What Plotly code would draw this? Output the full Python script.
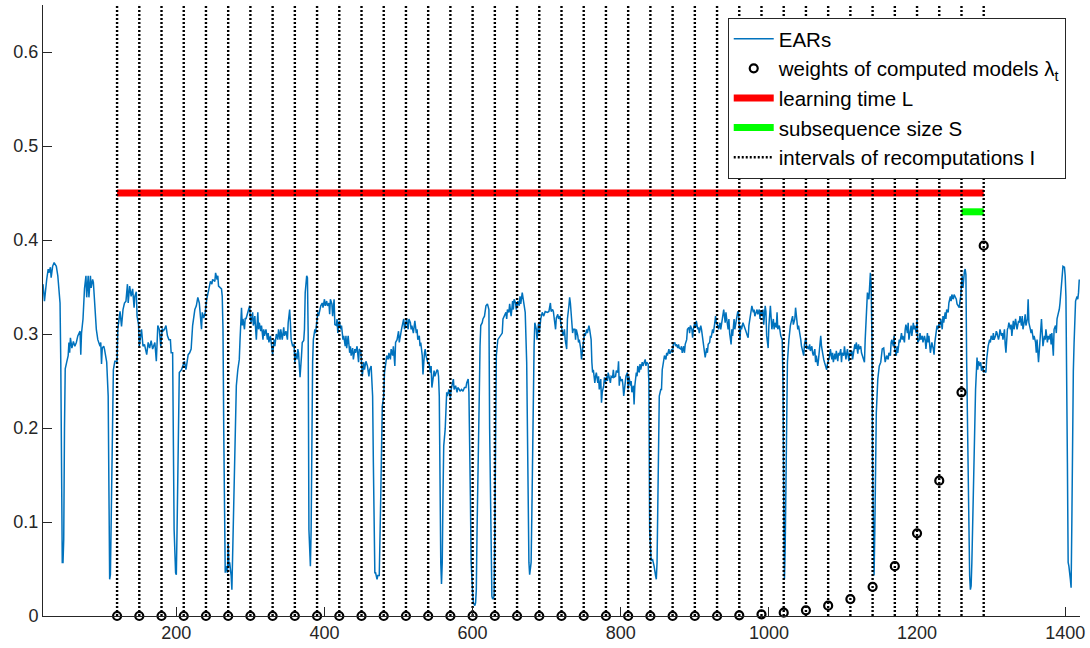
import plotly.graph_objects as go

# ---------------- data ----------------
ear_x = [
    20, 22, 25, 27, 28, 30, 31, 33, 35, 36, 38, 40, 42, 43, 44, 45, 46, 47, 48, 49,
    50, 52, 54, 55, 56, 57, 59, 61, 63, 65, 67, 70, 71, 72, 74, 76, 78, 79, 81, 82,
    84, 85, 87, 88, 90, 92, 94, 97, 98, 99, 100, 102, 103, 105, 106, 108, 109, 110, 111, 112,
    113, 114, 115, 117, 120, 121, 124, 126, 128, 130, 132, 134, 135, 137, 139, 141, 143, 144, 146, 147,
    149, 150, 153, 155, 157, 160, 162, 164, 166, 168, 171, 173, 175, 177, 179, 181, 182, 184, 186, 188,
    190, 192, 193, 195, 196, 197, 199, 200, 201, 202, 203, 204, 207, 209, 211, 213, 216, 218, 220, 222,
    225, 227, 229, 231, 234, 235, 237, 239, 241, 244, 245,
    246, 248, 249, 252, 253, 255, 256, 257, 259, 261, 262, 263, 264, 265, 266, 267, 269, 270, 271, 272,
    274, 275, 276, 277, 278, 279, 280, 281, 283, 284, 285, 286, 287, 288, 289, 290, 292, 293, 294, 296,
    297, 299, 300, 301, 303, 304, 306, 307, 308, 310, 311, 312, 314, 315, 317, 318, 319, 321, 323, 324,
    325, 327, 328, 329, 330, 332, 333, 335, 337, 338, 340, 341, 343, 345, 346, 348, 350, 351, 353, 354,
    355, 357, 359, 360, 361, 363, 364, 365, 366, 367, 369, 370, 372, 373, 374, 376, 377, 378, 379, 380,
    381, 382, 383, 384, 385, 387, 388, 389, 391, 392, 394, 395, 397, 398, 400, 401, 403, 404, 406, 407,
    408, 410, 411, 413, 414, 416, 417, 418, 420, 422, 423, 425, 426, 428, 429, 430, 432, 434, 435, 436,
    438, 439, 441, 442, 444, 446, 447, 449, 450, 451, 453, 454, 456, 458, 460, 461, 463, 464, 465, 466,
    467, 468, 469, 471, 472, 474,
    476, 477, 478, 480, 481, 483, 484, 486, 487, 489, 490, 492, 493, 495, 496, 498, 500, 501, 503, 504,
    505, 507, 508, 510, 511, 512, 513, 514, 516, 517, 518, 520, 521, 522, 524, 525, 526, 528, 529, 530,
    532, 533, 535, 536, 537, 539, 540, 541, 543, 544, 545, 547, 548, 549, 551, 552, 553, 554, 555, 556,
    557, 558, 559, 560, 561, 563, 564, 565, 566, 568, 570, 571, 573, 574, 575, 577, 579, 580, 582, 583,
    585, 587, 589, 591, 592, 594, 595, 596, 597, 598, 599, 600, 601, 603, 604, 605, 606, 607, 609, 610,
    611, 613, 614, 616, 617, 618, 620, 621, 622, 623, 625, 626, 627, 629, 630, 631, 632, 634, 636, 638,
    640, 641, 643, 645, 646, 647, 649, 650, 652, 654, 655, 656, 658, 659, 661, 663, 664, 665, 667, 668,
    670, 671, 673, 674, 675, 676, 677, 679, 680, 681, 682, 683, 684, 686, 687, 689, 690, 692, 694, 696,
    698, 701, 703,
    705, 706, 708, 709, 710, 712, 713, 715, 716, 718, 719, 721, 722, 724, 725, 727, 728, 730, 731, 732,
    734, 735, 736, 738, 739, 740, 742, 743, 744, 746, 747, 748, 750, 751, 752, 754, 755, 757, 758, 760,
    761, 762, 763, 765, 766, 767, 769, 770, 771, 773, 774, 775, 777, 778, 779, 781, 782, 783, 785, 786,
    787, 789, 790, 791, 793, 794, 796, 797, 798, 799, 800, 802, 803, 804, 806, 807, 809, 810, 811, 813,
    814, 815, 817, 818, 819, 821, 822, 823, 825, 826, 827, 829, 830, 831, 833, 834, 835, 837, 838, 839,
    840, 841, 843, 844, 845, 847, 848, 849, 850, 851, 852, 854, 855, 856, 858, 859, 861, 862, 863, 865,
    866, 867, 869, 870, 871, 873, 874, 875, 877, 878, 879, 881, 882, 883, 885, 886, 887, 889, 890, 892,
    893, 894, 896, 897, 898, 900, 901, 902, 904, 905, 906, 908, 909, 910, 912, 913, 914, 916, 917, 918,
    920, 921, 922, 924, 925, 927, 928, 929, 931, 932,
    934, 935, 937, 938, 939, 941, 942, 943, 945, 946, 947, 949, 950, 951, 953, 954, 955, 957, 958, 959,
    961, 962, 963, 965, 966, 968, 969, 971, 972, 973, 975, 976, 977, 979, 980, 981, 983, 984, 985, 987,
    988, 989, 991, 992, 993, 995, 996, 997, 999, 1000, 1002, 1003, 1004, 1006, 1007, 1008, 1010, 1011, 1012, 1014,
    1015, 1016, 1018, 1019, 1020, 1021, 1022, 1023, 1024, 1025, 1027, 1028, 1029, 1031, 1032, 1033, 1035, 1036, 1038, 1039,
    1040, 1042, 1043, 1044, 1046, 1047, 1048, 1050, 1051, 1052, 1054, 1055, 1056, 1058, 1059, 1060, 1062, 1063, 1064, 1066,
    1067, 1068, 1070, 1071, 1072, 1074, 1075, 1077, 1078, 1079, 1081, 1082, 1083, 1085, 1086, 1087, 1089, 1090, 1091, 1093,
    1094, 1095, 1097, 1098, 1099, 1101, 1102, 1104, 1105, 1106, 1108, 1109, 1110, 1112, 1113, 1114, 1116, 1117, 1118, 1120,
    1121, 1122, 1124, 1125, 1126, 1128, 1129, 1130, 1132, 1133, 1135, 1136, 1137, 1138, 1139, 1140, 1141, 1142, 1143, 1144,
    1145, 1147, 1148, 1149, 1151, 1152, 1153, 1155, 1156, 1157, 1159, 1161,
    1162, 1164, 1165, 1166, 1168, 1169, 1170, 1172, 1173, 1174, 1176, 1177, 1179, 1180, 1181, 1183, 1184, 1185, 1187, 1188,
    1189, 1191, 1192, 1193, 1195, 1196, 1197, 1199, 1200, 1201, 1203, 1204, 1205, 1207, 1208, 1210, 1211, 1212, 1214, 1215,
    1216, 1218, 1219, 1220, 1222, 1223, 1224, 1226, 1227, 1228, 1230, 1231, 1232, 1234, 1235, 1236, 1238, 1239, 1240, 1242,
    1243, 1245, 1246, 1247, 1249, 1250, 1251, 1253, 1254, 1255, 1257, 1258, 1259, 1260, 1261, 1262, 1263, 1264, 1265, 1266,
    1267, 1268, 1269, 1270, 1271, 1272, 1273, 1274, 1275, 1276, 1277, 1278, 1279, 1281, 1282, 1283, 1285, 1286, 1287, 1289,
    1290, 1291, 1293, 1294, 1295, 1296, 1298, 1299, 1300, 1302, 1303, 1304, 1306, 1307, 1308, 1310, 1311, 1312, 1314, 1315,
    1316, 1318, 1319, 1320, 1322, 1323, 1324, 1326, 1327, 1328, 1330, 1331, 1333, 1334, 1335, 1337, 1338, 1339, 1341, 1342,
    1343, 1345, 1346, 1347, 1349, 1350, 1351, 1353, 1354, 1355, 1357, 1358, 1360, 1361, 1362, 1364, 1365, 1366, 1368, 1369,
    1370, 1372, 1373, 1374, 1376, 1377, 1378, 1380, 1381, 1382, 1384, 1385, 1387, 1388, 1389, 1391, 1392, 1393, 1395, 1396,
    1397, 1399, 1400, 1401, 1402, 1403, 1404, 1405, 1407, 1408, 1409, 1410, 1411, 1412, 1413, 1414, 1416, 1417, 1418, 1419,
]
ear_y = [
    .353, .335, .358, .369, .365, .371, .360, .372, .376, .374, .372, .362, .337, .333, .270, .128, .057, .057, .082, .199,
    .263, .270, .277, .291, .280, .296, .285, .292, .287, .291, .298, .303, .278, .301, .316, .348, .362, .339, .362, .339,
    .362, .349, .358, .355, .326, .305, .294, .287, .291, .268, .285, .287, .284, .271, .270, .234, .128, .039, .044, .092,
    .163, .234, .262, .271, .271, .305, .324, .308, .326, .333, .335, .353, .333, .351, .340, .348, .328, .340, .345, .319,
    .310, .287, .305, .287, .289, .278, .291, .285, .293, .284, .291, .271, .309, .305, .287, .306, .303, .305, .309, .298,
    .294, .294, .280, .280, .199, .092, .046, .044, .092, .163, .234, .259, .262, .266, .271, .262, .278, .280, .284, .309,
    .326, .330, .339, .333, .305, .323, .317, .323, .337, .348, .355,
    .356, .353, .358, .356, .365, .358, .362, .351, .349, .348, .340, .305, .199, .092, .046, .053, .046, .078, .053, .057,
    .043, .028, .064, .110, .163, .199, .234, .245, .262, .266, .273, .294, .319, .328, .309, .316, .305, .317, .316, .323,
    .326, .330, .317, .312, .323, .309, .319, .298, .294, .323, .305, .312, .303, .309, .294, .305, .298, .305, .294, .301,
    .291, .298, .293, .284, .278, .294, .287, .300, .294, .305, .294, .305, .294, .307, .298, .303, .294, .312, .326, .312,
    .294, .287, .289, .270, .280, .273, .284, .280, .264, .254, .277, .291, .293, .305, .344, .362, .360, .300, .092, .057,
    .053, .092, .199, .270, .294, .305, .301, .309, .323, .319, .326, .330, .333, .328, .337, .330, .335, .330, .333, .321,
    .337, .332, .319, .337, .310, .309, .316, .301, .314, .305, .309, .294, .298, .287, .298, .285, .298, .280, .287, .277,
    .285, .273, .284, .280, .287, .270, .284, .282, .270, .255, .270, .262, .271, .266, .255, .262, .266, .248, .234, .163,
    .092, .046, .046, .039, .043, .043,
    .128, .181, .223, .234, .259, .270, .277, .273, .280, .273, .284, .277, .287, .266, .291, .294, .303, .291, .298, .305,
    .309, .316, .305, .312, .317, .309, .305, .316, .312, .305, .309, .301, .309, .314, .301, .305, .294, .298, .287, .291,
    .277, .257, .280, .284, .277, .271, .268, .270, .259, .266, .243, .255, .261, .255, .259, .262, .261, .255, .234, .128,
    .057, .034, .057, .128, .181, .199, .230, .238, .234, .241, .232, .241, .248, .252, .241, .245, .238, .243, .241, .239,
    .241, .239, .243, .243, .248, .252, .238, .199, .128, .057, .028, .025, .014, .011, .014, .028, .092, .163, .234, .287,
    .309, .312, .316, .319, .323, .330, .332, .326, .326, .199, .057, .021, .018, .021, .092, .234, .277, .294, .296, .298,
    .301, .316, .319, .323, .316, .326, .323, .332, .319, .335, .326, .337, .333, .326, .335, .330, .340, .332, .344, .337,
    .330, .323, .270, .163, .092, .057, .044, .057, .110, .199, .252, .287, .312, .305, .294, .312, .301, .316, .323, .319,
    .324, .323, .324,
    .333, .324, .326, .324, .319, .305, .317, .321, .316, .319, .312, .305, .298, .305, .294, .284, .316, .330, .339, .333,
    .309, .301, .305, .305, .294, .305, .298, .291, .294, .284, .273, .280, .287, .301, .298, .305, .301, .309, .305, .294,
    .270, .259, .262, .248, .255, .259, .248, .255, .241, .252, .227, .238, .245, .254, .248, .255, .250, .259, .252, .248,
    .255, .254, .262, .254, .255, .261, .259, .271, .245, .255, .250, .252, .245, .234, .248, .255, .259, .241, .255, .245,
    .250, .238, .245, .225, .245, .259, .255, .266, .259, .268, .262, .270, .266, .268, .273, .266, .270, .268, .248, .092,
    .060, .059, .060, .057, .053, .043, .039, .057, .128, .199, .234, .241, .241, .262, .273, .277, .273, .280, .277, .284,
    .279, .280, .284, .280, .289, .291, .287, .289, .285, .289, .285, .284, .287, .280, .287, .280, .289, .294, .305, .307,
    .301, .309, .305, .296, .305, .312, .307, .314, .305, .307, .301, .309, .305, .298, .291, .284, .275, .285, .280, .289,
    .291, .298, .296, .305, .301, .312, .319, .312, .309, .305,
    .312, .305, .316, .321, .326, .312, .323, .316, .305, .316, .301, .289, .305, .298, .316, .305, .309, .319, .324, .323,
    .294, .309, .305, .312, .309, .305, .303, .298, .296, .309, .319, .326, .330, .323, .326, .319, .324, .326, .321, .326,
    .316, .324, .319, .326, .310, .330, .324, .298, .285, .309, .330, .319, .305, .316, .305, .312, .307, .323, .305, .309,
    .301, .298, .294, .250, .128, .039, .074, .163, .234, .270, .294, .305, .309, .316, .319, .310, .316, .328, .316, .305,
    .309, .301, .294, .287, .282, .277, .289, .296, .284, .287, .284, .289, .282, .287, .280, .277, .284, .270, .277, .266,
    .273, .284, .298, .287, .280, .273, .270, .266, .262, .268, .273, .277, .284, .273, .280, .270, .279, .273, .282, .271,
    .280, .277, .284, .270, .280, .277, .287, .273, .279, .284, .271, .280, .277, .282, .273, .280, .289, .284, .291, .279,
    .289, .284, .287, .280, .277, .271, .270, .294, .333, .344, .337, .358, .365, .355, .300, .163, .092, .043, .092, .163,
    .216, .252, .262, .266, .270, .275, .284, .285, .278, .270, .277, .273,
    .280, .277, .291, .294, .287, .298, .284, .277, .287, .280, .294, .291, .301, .294, .298, .291, .305, .310, .301, .312,
    .294, .305, .309, .298, .312, .305, .309, .301, .316, .291, .294, .301, .294, .298, .291, .298, .294, .284, .301, .291,
    .298, .280, .287, .291, .284, .278, .291, .305, .309, .305, .312, .309, .316, .305, .319, .312, .323, .316, .326, .323,
    .333, .340, .335, .342, .337, .342, .340, .337, .332, .330, .328, .335, .340, .353, .362, .349, .365, .367, .369, .363,
    .270, .199, .128, .074, .043, .028, .032, .057, .092, .128, .163, .216, .241, .275, .262, .271, .266, .270, .261, .266,
    .259, .261, .259, .273, .284, .287, .294, .291, .298, .294, .301, .294, .298, .303, .301, .294, .298, .305, .298, .301,
    .294, .305, .289, .280, .305, .307, .312, .305, .310, .298, .314, .305, .316, .309, .305, .314, .312, .319, .309, .319,
    .305, .314, .321, .309, .316, .337, .312, .305, .301, .305, .294, .298, .291, .280, .294, .270, .284, .298, .316, .301,
    .287, .298, .294, .305, .291, .298, .294, .300, .289, .301, .277, .305, .309, .301, .316, .323, .326, .333, .351, .365,
    .372, .371, .362, .340, .270, .163, .057, .053, .039, .030, .100, .200, .260, .290, .319, .335, .340, .337, .344, .358,
]

recompute_x = [120, 150, 180, 210, 240, 270, 300, 330, 360, 390, 420, 450, 480, 510,
               540, 570, 600, 630, 660, 690, 720, 750, 780, 810, 840, 870, 900, 930,
               960, 990, 1020, 1050, 1080, 1110, 1140, 1170, 1200, 1230, 1260, 1290]
weights = [0, 0, 0, 0, 0, 0, 0, 0, 0, 0, 0, 0, 0, 0,
           0, 0, 0, 0, 0, 0, 0, 0, 0, 0, 0, 0, 0, 0,
           0.0007, 0.0018, 0.0035, 0.006, 0.011, 0.018, 0.031, 0.053, 0.088, 0.144, 0.238, 0.394]

learn_x = [120, 1290]
learn_level = 0.45
subseq_x = [1260, 1290]
subseq_level = 0.43

x_range = [20, 1420]
y_range = [0, 0.65]
x_ticks = [200, 400, 600, 800, 1000, 1200, 1400]
y_ticks = [0, 0.1, 0.2, 0.3, 0.4, 0.5, 0.6]
y_tick_text = ["0", "0.1", "0.2", "0.3", "0.4", "0.5", "0.6"]

assert len(ear_x) == len(ear_y)
assert len(recompute_x) == len(weights)

# ---------------- figure ----------------
AX = "#262626"
fig = go.Figure()

fig.add_trace(go.Scatter(
    x=ear_x, y=ear_y, mode="lines", name="EARs", legendgroup="a",
    line=dict(color="#0072BD", width=1.5)))

fig.add_trace(go.Scatter(
    x=recompute_x, y=weights, mode="markers", legendgroup="b", cliponaxis=False,
    name="weights of computed models \u03bb<sub>t</sub>",
    marker=dict(symbol="circle-open", size=8, color="black", line=dict(width=2.2, color="black"))))

fig.add_trace(go.Scatter(
    x=learn_x, y=[learn_level, learn_level], mode="lines", name="learning time L",
    legendgroup="c", line=dict(color="#FF0000", width=7)))

fig.add_trace(go.Scatter(
    x=subseq_x, y=[subseq_level, subseq_level], mode="lines", name="subsequence size S",
    legendgroup="d", line=dict(color="#00FF00", width=7)))

vx, vy = [], []
for t in recompute_x:
    vx += [t, t, None]
    vy += [y_range[0], y_range[1], None]
fig.add_trace(go.Scatter(
    x=vx, y=vy, mode="lines", name="intervals of recomputations I", legendgroup="e",
    line=dict(color="black", width=2.4, dash="2px,2px")))

fig.update_layout(
    width=1090, height=648,
    margin=dict(l=43, r=8, t=5, b=31),
    paper_bgcolor="white", plot_bgcolor="white",
    font=dict(family="Liberation Sans, Arial, sans-serif", size=18, color=AX),
    showlegend=True,
    legend=dict(
        x=0.6603, y=0.979, xanchor="left", yanchor="top",
        bgcolor="white", bordercolor=AX, borderwidth=1,
        font=dict(size=20.5, color="black"),
        itemwidth=40, tracegroupgap=0,
    ),
    xaxis=dict(range=x_range, tickvals=x_ticks, ticks="inside", ticklen=9,
               tickcolor=AX, showline=True, linecolor=AX, linewidth=1,
               showgrid=False, zeroline=False, mirror=False,
               tickfont=dict(size=18, color=AX)),
    yaxis=dict(range=y_range, tickvals=y_ticks, ticktext=y_tick_text,
               ticks="inside", ticklen=9, tickcolor=AX,
               showline=True, linecolor=AX, linewidth=1,
               showgrid=False, zeroline=False, mirror=False,
               tickfont=dict(size=18, color=AX)),
)

fig.write_html("out.html")
